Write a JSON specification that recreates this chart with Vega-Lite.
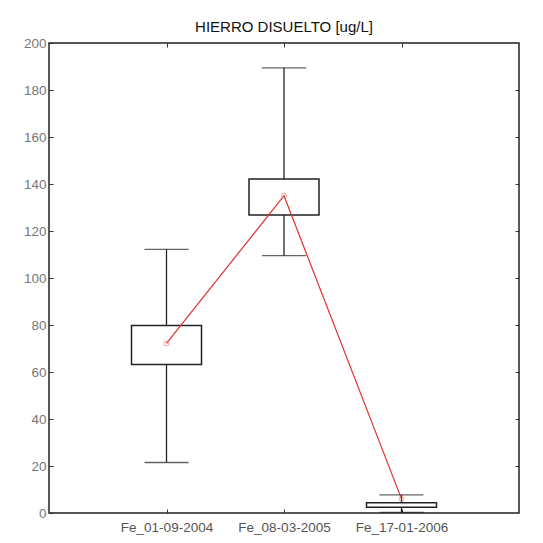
{
  "$schema": "https://vega.github.io/schema/vega-lite/v6.json",
  "width": 470,
  "height": 470,
  "autosize": "none",
  "padding": {"left": 49, "top": 43, "right": 24, "bottom": 30},
  "background": "white",
  "config": {
    "font": "Liberation Sans",
    "view": {"stroke": "#222222", "strokeWidth": 1.5},
    "axis": {"grid": false, "domain": false, "tickColor": "#333333", "tickSize": -4, "labelFont": "Liberation Sans", "labelFontSize": 13.5, "title": null}
  },
  "title": {"text": "HIERRO DISUELTO [ug/L]", "fontSize": 15, "fontWeight": "normal", "color": "#111111", "font": "Liberation Sans", "offset": 1},
  "data": {
    "values": [
      {"serie": "Fe_01-09-2004", "lo": 21.5, "q1": 63.2, "q3": 79.8, "hi": 112.2, "mean": 72.2},
      {"serie": "Fe_08-03-2005", "lo": 109.5, "q1": 126.8, "q3": 142.1, "hi": 189.4, "mean": 135},
      {"serie": "Fe_17-01-2006", "lo": 0.3, "q1": 2.4, "q3": 4.4, "hi": 7.7, "mean": 6}
    ]
  },
  "resolve": {"axis": {"x": "independent", "y": "independent"}},
  "layer": [
    {
      "mark": {"type": "rule", "color": "#222222", "strokeWidth": 1.3},
      "encoding": {
        "x": {"field": "serie", "type": "nominal", "sort": null, "scale": {"type": "point", "padding": 1}, "axis": {"orient": "bottom", "labelAngle": 0, "labelColor": "#555555", "labelPadding": 11}},
        "y": {"field": "lo", "type": "quantitative", "scale": {"domain": [0, 200], "nice": false}, "axis": {"orient": "left", "values": [0, 20, 40, 60, 80, 100, 120, 140, 160, 180, 200], "labelColor": "#777777", "labelPadding": 7}},
        "y2": {"field": "hi"}
      }
    },
    {
      "mark": {"type": "bar", "fill": "white", "stroke": "#222222", "strokeWidth": 1.5, "size": 70},
      "encoding": {
        "x": {"field": "serie", "type": "nominal", "sort": null, "axis": null},
        "y": {"field": "q1", "type": "quantitative", "axis": null},
        "y2": {"field": "q3"}
      }
    },
    {
      "mark": {"type": "tick", "color": "#222222", "thickness": 1.3, "size": 44},
      "encoding": {
        "x": {"field": "serie", "type": "nominal", "sort": null, "axis": null},
        "y": {"field": "lo", "type": "quantitative", "axis": null}
      }
    },
    {
      "mark": {"type": "tick", "color": "#222222", "thickness": 1.3, "size": 44},
      "encoding": {
        "x": {"field": "serie", "type": "nominal", "sort": null, "axis": null},
        "y": {"field": "hi", "type": "quantitative", "axis": null}
      }
    },
    {
      "mark": {"type": "line", "color": "#e03030", "strokeWidth": 1.2},
      "encoding": {
        "x": {"field": "serie", "type": "nominal", "sort": null, "axis": null},
        "y": {"field": "mean", "type": "quantitative", "axis": null}
      }
    },
    {
      "mark": {"type": "point", "color": "#e88080", "filled": false, "size": 25, "strokeWidth": 1},
      "encoding": {
        "x": {"field": "serie", "type": "nominal", "sort": null, "axis": {"orient": "top", "labels": false}},
        "y": {"field": "mean", "type": "quantitative", "axis": {"orient": "right", "labels": false, "values": [20, 40, 60, 80, 100, 120, 140, 160, 180]}}
      }
    }
  ]
}
